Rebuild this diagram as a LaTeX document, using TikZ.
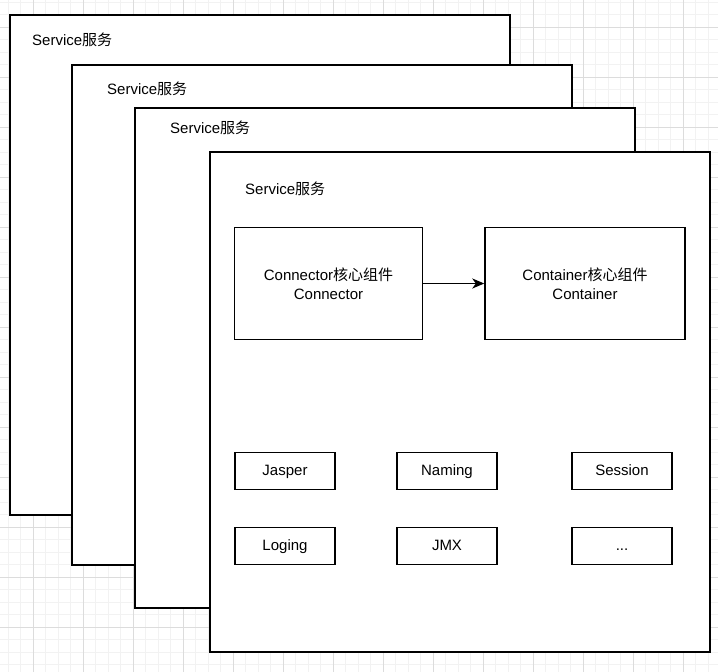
\documentclass[tikz,border=0pt]{standalone}
\usepackage{fontspec}
\setmainfont{Liberation Sans}
\newfontfamily\cjk{Noto Sans CJK SC}
\usetikzlibrary{arrows.meta}
\definecolor{gridminor}{HTML}{F2F2F2}
\definecolor{gridmajor}{HTML}{DCDCDC}
\tikzset{
  minorline/.style={draw=gridminor, line width=0.9pt},
  majorline/.style={draw=gridmajor, line width=0.9pt},
  svcbox/.style={draw=black, fill=white, line width=1.4pt, minimum width=500pt, minimum height=500pt, inner sep=0pt},
  svclabel/.style={font=\fontsize{15pt}{18pt}\selectfont, anchor=west, inner sep=0pt},
  corebox/.style={draw=black, fill=white, line width=1.4pt, inner sep=0pt, align=center, font=\fontsize{15pt}{19pt}\selectfont},
  smallbox/.style={draw=black, fill=white, line width=1.4pt, inner sep=0pt, minimum width=100pt, minimum height=37.5pt, text height=11pt, text depth=3pt, font=\fontsize{15pt}{18pt}\selectfont},
  flow/.style={draw=black, line width=1.5pt, -{Stealth[length=12pt,width=10pt,inset=3.5pt]}}
}
\begin{document}
\begin{tikzpicture}[x=1pt,y=-1pt]
\useasboundingbox (0,0) rectangle (718,672);
\fill[white] (0,0) rectangle (718,672);
% grid
\foreach \i in {0,...,57} {\draw[minorline] ({8.33+12.5*\i},0) -- ({8.33+12.5*\i},672);}
\foreach \i in {0,...,54} {\draw[minorline] (0,{2.33+12.5*\i}) -- (718,{2.33+12.5*\i});}
\foreach \i in {0,...,14} {\draw[majorline] ({33.33+50*\i},0) -- ({33.33+50*\i},672);}
\foreach \i in {0,...,13} {\draw[majorline] (0,{27.33+50*\i}) -- (718,{27.33+50*\i});}
% service layers
\node[svcbox] (s1) at (260,265) {};
\node[svclabel] (l1) at (32,40) {Service{\cjk 服务}};
\node[svcbox] (s2) at (322,315) {};
\node[svclabel] (l2) at (107,89) {Service{\cjk 服务}};
\node[svcbox] (s3) at (385,358) {};
\node[svclabel] (l3) at (170,128) {Service{\cjk 服务}};
\node[svcbox] (s4) at (460,402) {};
\node[svclabel] (l4) at (245,189) {Service{\cjk 服务}};
% core components
\node[corebox, minimum width=188pt, minimum height=112pt] (conn) at (328.5,283.5) {Connector{\cjk 核心组件}\\Connector};
\node[corebox, minimum width=200pt, minimum height=112pt] (cont) at (585,283.5) {Container{\cjk 核心组件}\\Container};
\draw[flow] (conn) -- (cont);
% small components
\node[smallbox] (jasper) at (285,471) {Jasper};
\node[smallbox] (naming) at (447,471) {Naming};
\node[smallbox] (session) at (622,471) {Session};
\node[smallbox] (loging) at (285,546) {Loging};
\node[smallbox] (jmx) at (447,546) {JMX};
\node[smallbox] (more) at (622,546) {...};
\end{tikzpicture}
\end{document}
